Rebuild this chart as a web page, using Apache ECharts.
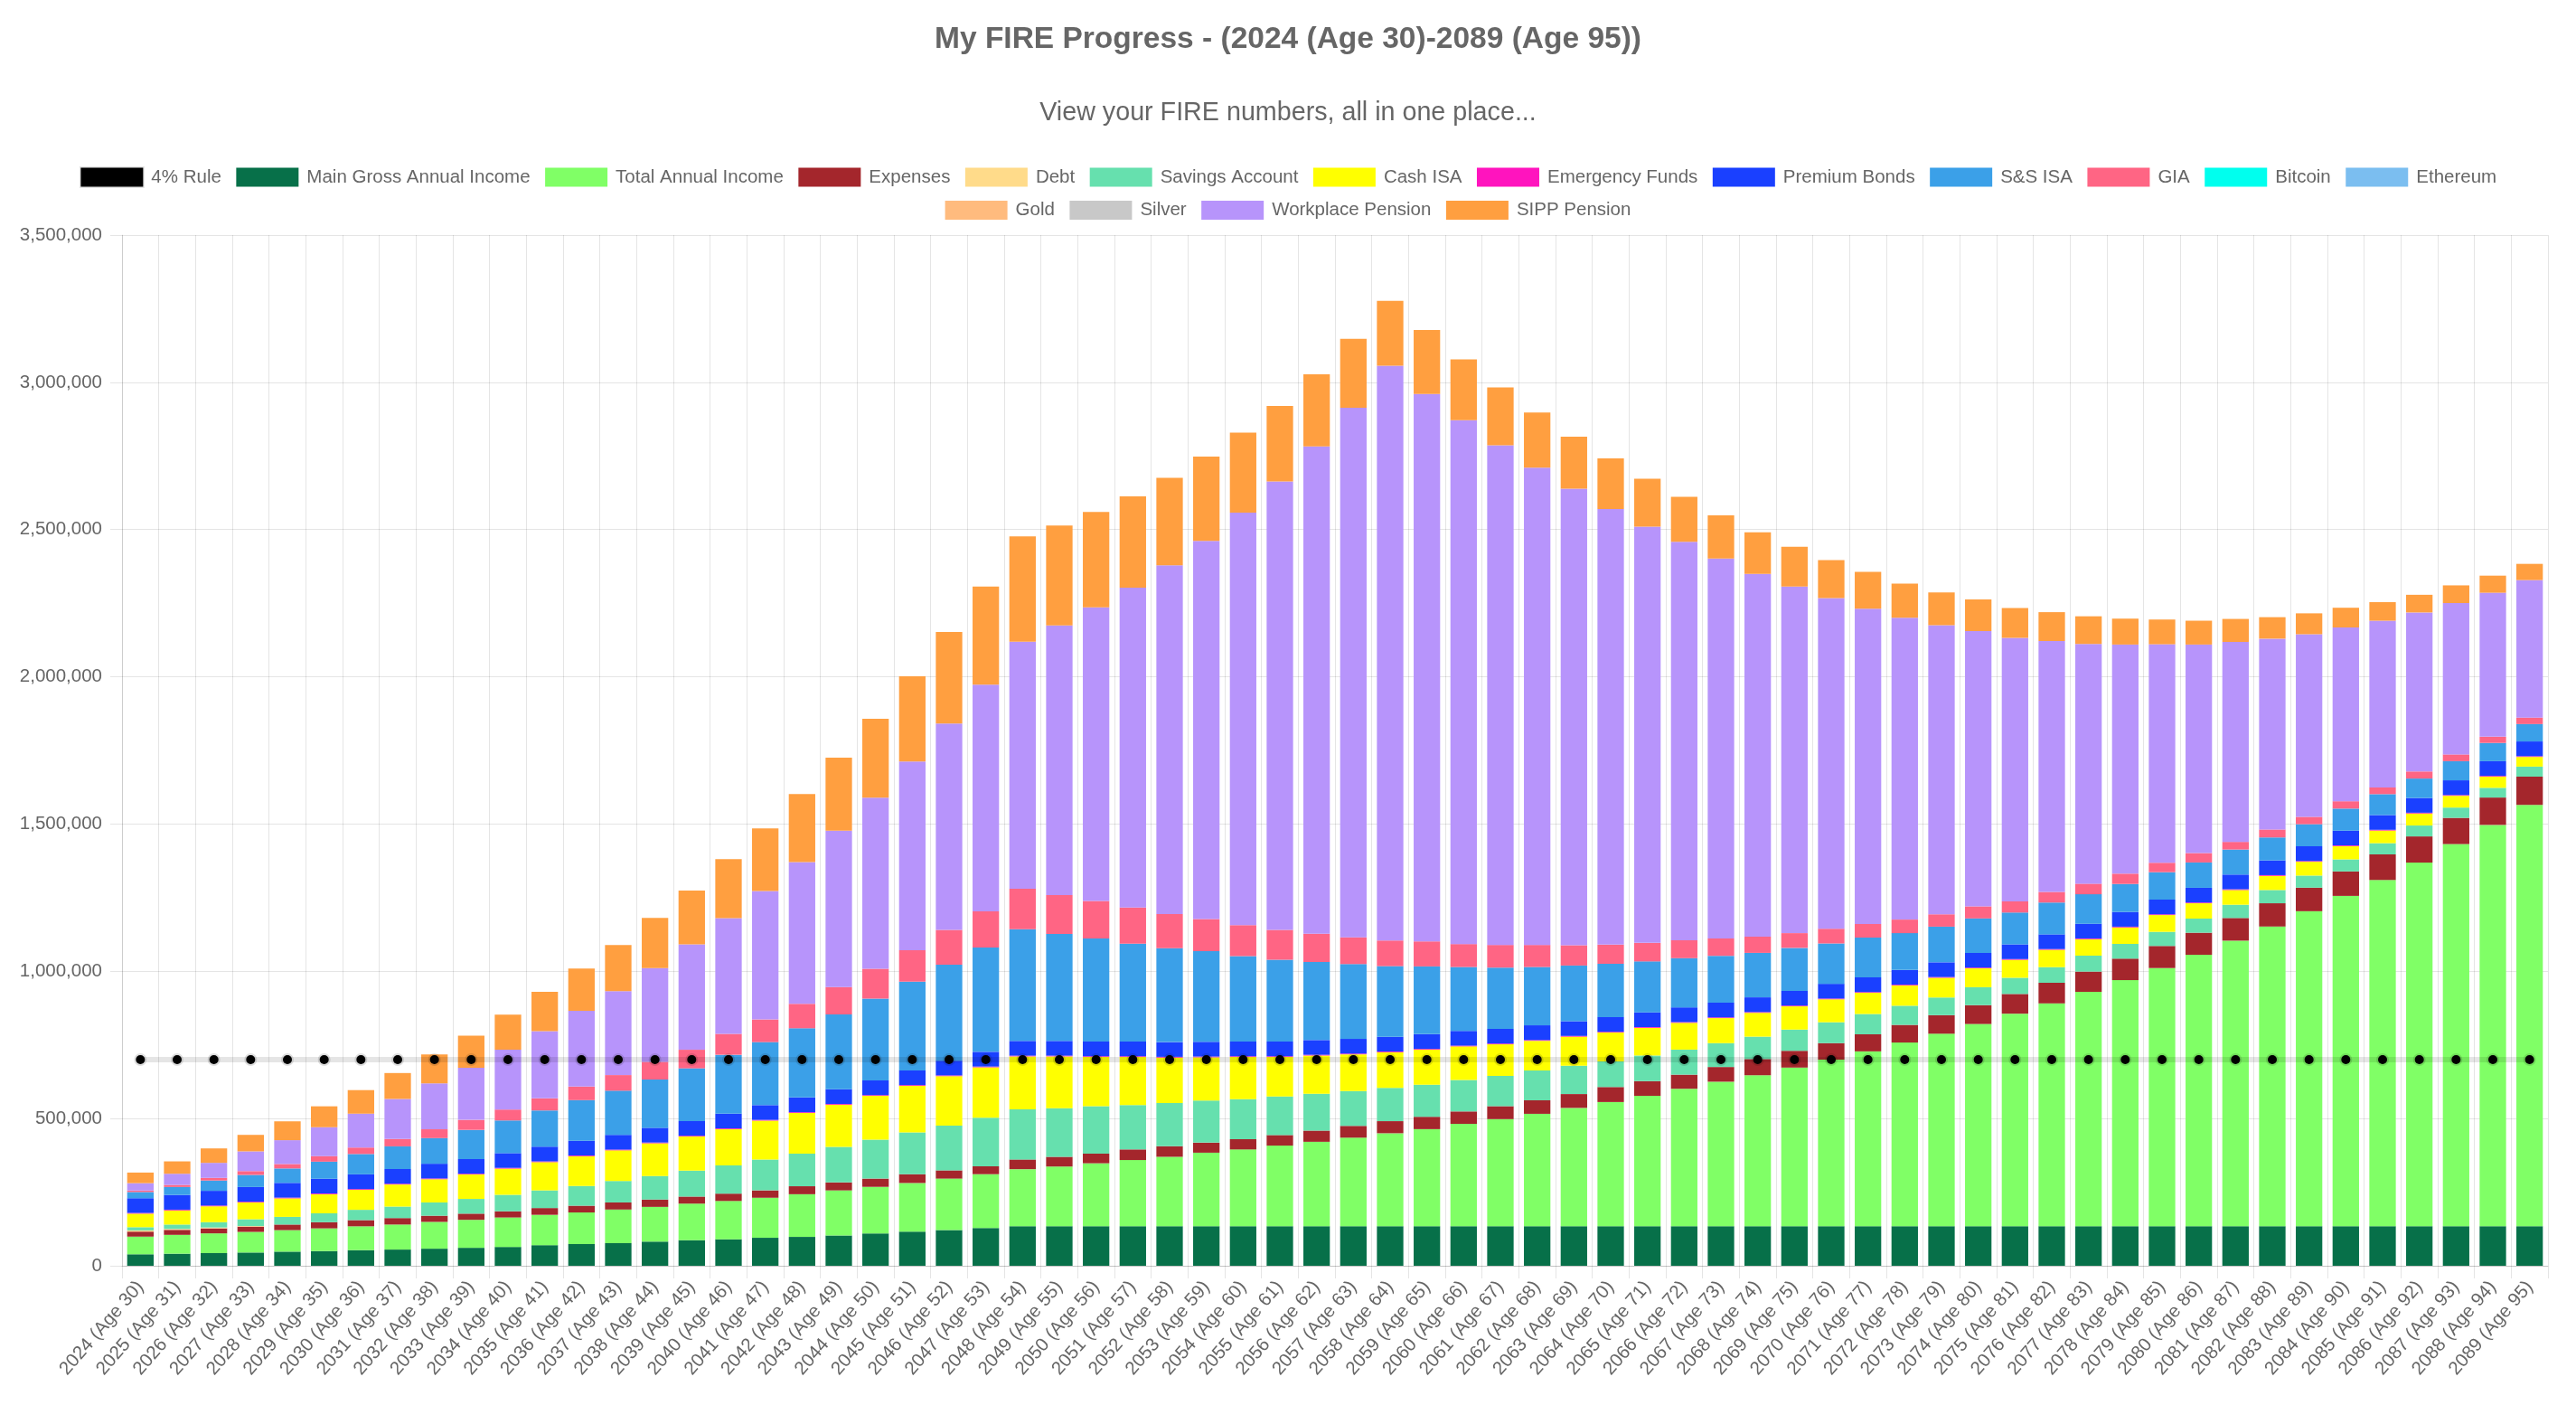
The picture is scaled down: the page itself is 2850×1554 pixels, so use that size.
<!DOCTYPE html>
<html>
<head>
<meta charset="utf-8">
<script src="https://cdn.jsdelivr.net/npm/echarts@6/dist/echarts.min.js"></script>
<style>
html,body{margin:0;padding:0;background:#fff;}
#chart{width:2850px;height:1554px;}
</style>
</head>
<body>
<div id="chart"></div>
<script>
// ---------- DATA ----------
const categories = [
"2024 (Age 30)","2025 (Age 31)","2026 (Age 32)","2027 (Age 33)","2028 (Age 34)","2029 (Age 35)",
"2030 (Age 36)","2031 (Age 37)","2032 (Age 38)","2033 (Age 39)","2034 (Age 40)","2035 (Age 41)",
"2036 (Age 42)","2037 (Age 43)","2038 (Age 44)","2039 (Age 45)","2040 (Age 46)","2041 (Age 47)",
"2042 (Age 48)","2043 (Age 49)","2044 (Age 50)","2045 (Age 51)","2046 (Age 52)","2047 (Age 53)",
"2048 (Age 54)","2049 (Age 55)","2050 (Age 56)","2051 (Age 57)","2052 (Age 58)","2053 (Age 59)",
"2054 (Age 60)","2055 (Age 61)","2056 (Age 62)","2057 (Age 63)","2058 (Age 64)","2059 (Age 65)",
"2060 (Age 66)","2061 (Age 67)","2062 (Age 68)","2063 (Age 69)","2064 (Age 70)","2065 (Age 71)",
"2066 (Age 72)","2067 (Age 73)","2068 (Age 74)","2069 (Age 75)","2070 (Age 76)","2071 (Age 77)",
"2072 (Age 78)","2073 (Age 79)","2074 (Age 80)","2075 (Age 81)","2076 (Age 82)","2077 (Age 83)",
"2078 (Age 84)","2079 (Age 85)","2080 (Age 86)","2081 (Age 87)","2082 (Age 88)","2083 (Age 89)",
"2084 (Age 90)","2085 (Age 91)","2086 (Age 92)","2087 (Age 93)","2088 (Age 94)","2089 (Age 95)"
];

const yTicks = { min: 0, max: 3500000, interval: 500000 };

// 4% rule (full units)
const fourPercentRule = [
700000,700000,700000,700000,700000,700000,700000,700000,700000,700000,700000,700000,
700000,700000,700000,700000,700000,700000,700000,700000,700000,700000,700000,700000,
700000,700000,700000,700000,700000,700000,700000,700000,700000,700000,700000,700000,
700000,700000,700000,700000,700000,700000,700000,700000,700000,700000,700000,700000,
700000,700000,700000,700000,700000,700000,700000,700000,700000,700000,700000,700000,
700000,700000,700000,700000,700000,700000
];

// stacked bar values below are in thousands
const mainGrossIncome = [39,41,43,45,48,50,53,55,58,61,64,70,74,77,82,87,90,95,98,103,110,116,121,128,
134,134,134,134,134,134,134,134,134,134,134,134,134,134,134,134,134,134,134,134,134,134,134,134,
134,134,134,134,134,134,134,134,134,134,134,134,134,134,134,134,134,134];

const totalAnnualIncome = [60,64,67,70,73,77,81,85,91,95,100,103,107,114,118,124,130,136,145,153,158,165,175,183,
194,203,214,225,236,250,261,274,287,301,316,330,348,364,382,402,422,443,467,491,513,539,566,594,
624,654,687,722,757,796,836,877,922,970,1018,1070,1122,1176,1235,1298,1363,1431];

const expenses = [17,17,17,18,19,21,21,22,21,21,21,23,23,24,25,24,25,25,27,27,28,30,28,27,
33,33,33,36,36,34,35,36,38,40,41,42,42,44,46,47,51,50,48,50,55,57,56,58,
60,63,64,67,70,69,73,75,75,77,79,80,83,87,89,89,93,96];

const debt = [4,3,3,2,0,0,0,0,0,0,0,0,0,0,0,0,0,0,0,0,0,0,0,0,
0,0,0,0,0,0,0,0,0,0,0,0,0,0,0,0,0,0,0,0,0,0,0,0,
0,0,0,0,0,0,0,0,0,0,0,0,0,0,0,0,0,0];

const savingsAccount = [11,15,18,23,26,30,35,39,45,50,56,60,67,73,80,88,96,105,111,121,132,142,152,165,
170,165,161,151,147,143,136,131,125,118,113,109,107,103,101,96,87,87,85,81,76,72,71,69,
65,60,61,55,53,54,50,48,48,45,45,41,41,38,37,35,33,34];

const cashIsa = [46,48,54,57,63,65,68,75,79,83,89,96,101,104,111,116,123,132,138,143,149,158,168,171,
180,176,167,163,154,147,143,134,130,125,121,119,114,107,101,99,98,94,91,85,81,79,78,72,
69,67,64,61,59,56,56,57,52,50,48,47,45,43,41,40,38,33];

const emergencyFunds = [2.5,2.5,2.5,2.5,2.5,2.5,2.5,2.5,2.5,2.5,2.5,2.5,2.5,2.5,2.5,2.5,2.5,2.5,2.5,2.5,2.5,2.5,
2.5,2.5,2.5,2.5,2.5,2.5,2.5,2.5,2.5,2.5,2.5,2.5,2.5,2.5,2.5,2.5,2.5,2.5,2.5,2.5,2.5,2.5,
2.5,2.5,2.5,2.5,2.5,2.5,2.5,2.5,2.5,2.5,2.5,2.5,2.5,2.5,2.5,2.5,2.5,2.5,2.5,2.5,2.5,2.5];

const premiumBonds = [50,50,50,50,50,50,50,50,50,50,50,50,50,50,50,50,50,50,50,50,50,50,50,50,
50,50,50,50,50,50,50,50,50,50,50,50,50,50,50,50,50,50,50,50,50,50,50,50,
50,50,50,50,50,50,50,50,50,50,50,50,50,50,50,50,50,50];

const ssIsa = [21,27,35,41,49,58,69,77,87,99,111,123,138,150,164,179,200,214,235,254,278,301,326,354,
379,363,350,332,319,308,290,278,265,254,240,230,217,208,198,189,181,173,167,159,151,146,137,135,
125,121,117,108,108,100,95,93,86,85,78,75,75,71,66,65,62,59];

const gia = [5,7,9,13,15,19,22,25,30,34,37,41,46,53,60,63,71,77,83,93,101,107,118,123,
138,132,127,123,116,109,105,101,96,91,87,85,78,77,75,69,65,63,61,59,55,50,50,46,
46,42,41,38,36,36,35,32,32,26,27,25,25,23,24,23,21,22];

const bitcoin = [0,0,0,0,0,0,0,0,0,0,0,0,0,0,0,0,0,0,0,0,0,0,0,0,0,0,0,0,0,0,0,0,0,
0,0,0,0,0,0,0,0,0,0,0,0,0,0,0,0,0,0,0,0,0,0,0,0,0,0,0,0,0,0,0,0,0];
const ethereum = [0,0,0,0,0,0,0,0,0,0,0,0,0,0,0,0,0,0,0,0,0,0,0,0,0,0,0,0,0,0,0,0,0,
0,0,0,0,0,0,0,0,0,0,0,0,0,0,0,0,0,0,0,0,0,0,0,0,0,0,0,0,0,0,0,0,0];
const gold = [0,0,0,0,0,0,0,0,0,0,0,0,0,0,0,0,0,0,0,0,0,0,0,0,0,0,0,0,0,0,0,0,0,
0,0,0,0,0,0,0,0,0,0,0,0,0,0,0,0,0,0,0,0,0,0,0,0,0,0,0,0,0,0,0,0,0];
const silver = [0,0,0,0,0,0,0,0,0,0,0,0,0,0,0,0,0,0,0,0,0,0,0,0,0,0,0,0,0,0,0,0,0,
0,0,0,0,0,0,0,0,0,0,0,0,0,0,0,0,0,0,0,0,0,0,0,0,0,0,0,0,0,0,0,0,0];

const workplacePension = [25,38,51,67,81,98,115,136,156,177,203,228,257,285,318,358,393,436,481,531,581,641,701,770,
839,916,997,1086,1184,1284,1401,1523,1655,1798,1952,1859,1779,1697,1621,1550,1479,1413,1353,1290,1232,1177,1123,1071,
1025,982,935,895,852,814,778,742,708,679,648,620,590,566,540,514,489,467];

const sippPension = [36,42,49,56,64,71,80,88,98,109,119,134,144,157,171,183,200,213,231,248,268,289,311,333,
357,339,324,310,297,286,272,256,245,234,220,217,206,196,187,177,172,163,153,147,141,135,129,125,
116,111,107,101,98,94,88,84,81,78,73,71,67,63,60,60,58,55];

const THOUSAND = 1000;

// ---------- STYLE ----------
const FONT = "'Liberation Sans', Arial, Helvetica, sans-serif";
const TXT = '#666';
const GRID_LINE = 'rgba(0,0,0,0.1)';

const barDefs = [
  ['Main Gross Annual Income', mainGrossIncome, '#077049'],
  ['Total Annual Income', totalAnnualIncome, '#80ff66'],
  ['Expenses', expenses, '#a4262c'],
  ['Debt', debt, '#ffdb8a'],
  ['Savings Account', savingsAccount, '#66e0ae'],
  ['Cash ISA', cashIsa, '#ffff00'],
  ['Emergency Funds', emergencyFunds, '#ff14be'],
  ['Premium Bonds', premiumBonds, '#1a40ff'],
  ['S&S ISA', ssIsa, '#3ba0e8'],
  ['GIA', gia, '#ff6584'],
  ['Bitcoin', bitcoin, '#00ffee'],
  ['Ethereum', ethereum, '#7bbef0'],
  ['Gold', gold, '#ffbb7e'],
  ['Silver', silver, '#c8c8c8'],
  ['Workplace Pension', workplacePension, '#b794fb'],
  ['SIPP Pension', sippPension, '#ff9f40']
];

const series = [{
  name: '4% Rule',
  type: 'line',
  data: fourPercentRule,
  symbol: 'circle',
  symbolSize: 10,
  z: 10,
  itemStyle: { color: '#000', borderColor: 'rgba(0,0,0,0.13)', borderWidth: 4 },
  lineStyle: { color: 'rgba(0,0,0,0.1)', width: 6 },
  emphasis: { disabled: true }
}];
barDefs.forEach(([name, vals, color]) => {
  series.push({
    name, type: 'bar', stack: 'total', barWidth: '72%',
    data: vals.map(v => v * THOUSAND),
    itemStyle: { color },
    emphasis: { disabled: true }
  });
});

const row1 = ['4% Rule','Main Gross Annual Income','Total Annual Income','Expenses','Debt','Savings Account',
  'Cash ISA','Emergency Funds','Premium Bonds','S&S ISA','GIA','Bitcoin','Ethereum'];
const row2 = ['Gold','Silver','Workplace Pension','SIPP Pension'];
const legendItem = n => n === '4% Rule'
  ? { name: n, icon: 'rect', itemStyle: { color: '#000', borderColor: 'rgba(0,0,0,0.1)', borderWidth: 3 } }
  : { name: n, icon: 'rect' };
const legendBase = {
  left: 'center', orient: 'horizontal', padding: 0,
  itemWidth: 69, itemHeight: 21, itemGap: 16.5, selectedMode: false,
  textStyle: { color: TXT, fontSize: 20.5, fontFamily: FONT, padding: [0, 0, 0, 4] }
};

const chart = echarts.init(document.getElementById('chart'), null, { renderer: 'canvas' });
chart.setOption({
  animation: false,
  backgroundColor: '#fff',
  textStyle: { fontFamily: FONT },
  title: [
    { text: 'My FIRE Progress - (2024 (Age 30)-2089 (Age 95))', left: 'center', top: 27, padding: 0,
      textStyle: { fontSize: 33.5, fontWeight: 'bold', color: TXT, fontFamily: FONT } },
    { text: 'View your FIRE numbers, all in one place...', left: 'center', top: 111, padding: 0,
      textStyle: { fontSize: 28.7, fontWeight: 'normal', color: TXT, fontFamily: FONT } }
  ],
  legend: [
    Object.assign({}, legendBase, { top: 184, data: row1.map(legendItem) }),
    Object.assign({}, legendBase, { top: 222, data: row2.map(legendItem) })
  ],
  grid: { left: 135, right: 31, top: 260, bottom: 154, containLabel: false, outerBoundsMode: 'none' },
  xAxis: {
    type: 'category', data: categories, boundaryGap: true,
    axisLine: { show: true, lineStyle: { color: 'rgba(0,0,0,0.14)', width: 1 } },
    axisTick: { show: true, length: 14, interval: 0, alignWithLabel: false, lineStyle: { color: GRID_LINE } },
    splitLine: { show: true, interval: 0, lineStyle: { color: GRID_LINE, width: 1 } },
    axisLabel: { interval: 0, rotate: 49, margin: 20, color: TXT, fontSize: 20.5, fontFamily: FONT }
  },
  yAxis: {
    type: 'value', min: yTicks.min, max: yTicks.max, interval: yTicks.interval,
    axisLine: { show: true, lineStyle: { color: GRID_LINE } },
    axisTick: { show: true, length: 13, lineStyle: { color: GRID_LINE } },
    splitLine: { show: true, lineStyle: { color: GRID_LINE, width: 1 } },
    axisLabel: { margin: 22, color: TXT, fontSize: 20.5, fontFamily: FONT,
      formatter: v => v.toLocaleString('en-US') }
  },
  tooltip: { show: false },
  series
});
</script>
</body>
</html>
